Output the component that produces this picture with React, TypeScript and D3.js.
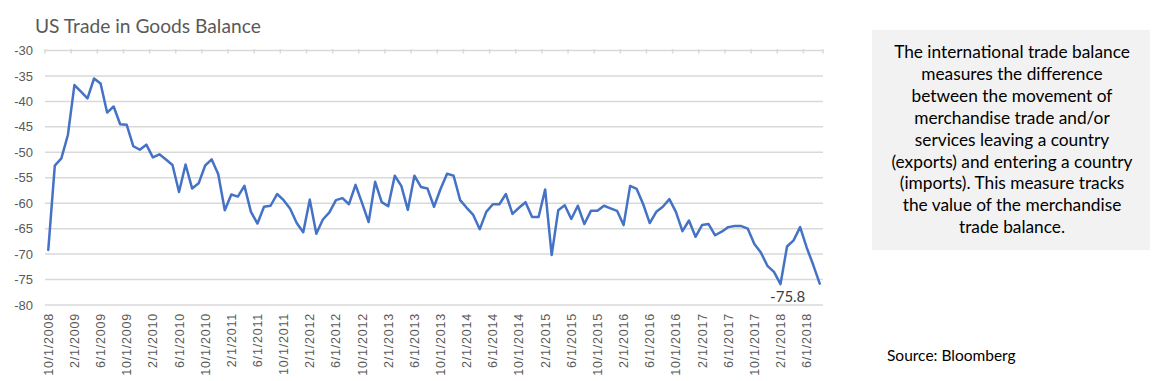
import React from "react";
import * as d3 from "d3";

const title = "US Trade in Goods Balance";

const balance = [
  -69.2, -52.6, -51.2, -46.6, -36.8, -38.1, -39.4, -35.5, -36.5, -42.2,
  -41.0, -44.5, -44.6, -48.8, -49.5, -48.5, -51.0, -50.4, -51.4, -52.5,
  -57.8, -52.4, -57.1, -56.1, -52.6, -51.4, -54.3, -61.4, -58.3, -58.7,
  -56.6, -61.7, -64.0, -60.7, -60.5, -58.2, -59.4, -61.1, -63.9, -65.7,
  -59.3, -66.0, -63.2, -61.8, -59.4, -59.0, -60.2, -56.4, -60.0, -63.7,
  -55.8, -59.8, -60.6, -54.6, -56.6, -61.3, -54.6, -56.8, -57.1, -60.7,
  -57.2, -54.2, -54.6, -59.4, -60.9, -62.3, -65.1, -61.7, -60.2, -60.2,
  -58.2, -62.1, -60.9, -59.8, -62.7, -62.7, -57.3, -70.2, -61.4, -60.4,
  -63.1, -60.5, -64.1, -61.5, -61.5, -60.5, -61.0, -61.5, -64.3, -56.6,
  -57.2, -60.2, -63.9, -61.7, -60.7, -59.2, -61.7, -65.5, -63.4, -66.6,
  -64.3, -64.1, -66.3, -65.6, -64.7, -64.5, -64.5, -65.0, -68.0, -69.7,
  -72.3, -73.5, -75.9, -68.5, -67.3, -64.7, -68.7, -72.1, -75.8,
];

const yTicks = [-30, -35, -40, -45, -50, -55, -60, -65, -70, -75, -80];

const xTickLabels = [
  "10/1/2008", "2/1/2009", "6/1/2009", "10/1/2009", "2/1/2010", "6/1/2010",
  "10/1/2010", "2/1/2011", "6/1/2011", "10/1/2011", "2/1/2012", "6/1/2012",
  "10/1/2012", "2/1/2013", "6/1/2013", "10/1/2013", "2/1/2014", "6/1/2014",
  "10/1/2014", "2/1/2015", "6/1/2015", "10/1/2015", "2/1/2016", "6/1/2016",
  "10/1/2016", "2/1/2017", "6/1/2017", "10/1/2017", "2/1/2018", "6/1/2018",
];

const lastLabel = "-75.8";

const noteLines = [
  "The international trade balance",
  "measures the difference",
  "between the movement of",
  "merchandise trade and/or",
  "services leaving a country",
  "(exports) and entering a country",
  "(imports). This measure tracks",
  "the value of the merchandise",
  "trade balance.",
];

const sourceText = "Source: Bloomberg";

const W = 1154;
const H = 381;
const plotLeft = 45;
const plotRight = 823;
const TITLE_FONT = "Lato, 'Open Sans', sans-serif";
const AXIS_FONT = "'Liberation Sans', Arial, sans-serif";

export default function App() {
  const idx = balance.map((_, i) => i);
  const x = d3
    .scaleBand<number>()
    .domain(idx)
    .range([plotLeft, plotRight])
    .paddingInner(0)
    .paddingOuter(0);
  const y = d3.scaleLinear().domain([-80, -30]).range([305, 50.5]);
  const cx = (i: number) => (x(i) as number) + x.bandwidth() / 2;

  const line = d3
    .line<number>()
    .x((_, i) => cx(i))
    .y((d) => y(d));

  const tickIdx = idx.filter((i) => i % 4 === 0);
  const yTop = y(-30);
  const lastI = balance.length - 1;

  return (
    <svg
      width={W}
      height={H}
      style={{ position: "absolute", left: 0, top: 0, background: "#fff" }}
    >
      <rect x={0} y={0} width={W} height={H} fill="#ffffff" />
      <text
        x={35}
        y={33}
        fontFamily={TITLE_FONT}
        fontSize={19.2}
        fill="#595959"
      >
        {title}
      </text>

      {yTicks.map((t) => (
        <g key={t}>
          <line
            x1={plotLeft}
            x2={plotRight}
            y1={y(t)}
            y2={y(t)}
            stroke="#d9d9d9"
            strokeWidth={1.5}
          />
          <text
            x={33}
            y={y(t)}
            dy="0.35em"
            textAnchor="end"
            fontFamily={AXIS_FONT}
            fontSize={13}
            fill="#595959"
          >
            {t}
          </text>
        </g>
      ))}

      {tickIdx.map((i) => (
        <line
          key={"tk" + i}
          x1={x(i) as number}
          x2={x(i) as number}
          y1={yTop - 1.5}
          y2={yTop + 3}
          stroke="#d9d9d9"
          strokeWidth={1.5}
        />
      ))}
      <line
        x1={plotRight}
        x2={plotRight}
        y1={yTop - 1.5}
        y2={yTop + 3}
        stroke="#d9d9d9"
        strokeWidth={1.5}
      />

      {tickIdx.map((i, k) => (
        <text
          key={"xl" + i}
          transform={`translate(${cx(i) + 4.5},313) rotate(-90)`}
          textAnchor="end"
          fontFamily={AXIS_FONT}
          fontSize={12.5}
          letterSpacing={0.8}
          fill="#595959"
        >
          {xTickLabels[k]}
        </text>
      ))}

      <path
        d={line(balance) as string}
        fill="none"
        stroke="#4472c4"
        strokeWidth={2.5}
        strokeLinejoin="round"
        strokeLinecap="round"
      />

      <text
        x={cx(lastI) - 32}
        y={y(balance[lastI]) + 13}
        dy="0.35em"
        textAnchor="middle"
        fontFamily={TITLE_FONT}
        fontSize={15}
        fill="#404040"
      >
        {lastLabel}
      </text>

      <rect x={872} y={30} width={278} height={220} fill="#f2f2f2" />
      {noteLines.map((l, i) => (
        <text
          key={"n" + i}
          x={1012}
          y={52 + i * 21.9}
          dy="0.35em"
          textAnchor="middle"
          fontFamily={TITLE_FONT}
          fontSize={17.3}
          fill="#000"
        >
          {l}
        </text>
      ))}

      <text
        x={887}
        y={356}
        dy="0.35em"
        fontFamily={TITLE_FONT}
        fontSize={15.5}
        fill="#000"
      >
        {sourceText}
      </text>
    </svg>
  );
}
